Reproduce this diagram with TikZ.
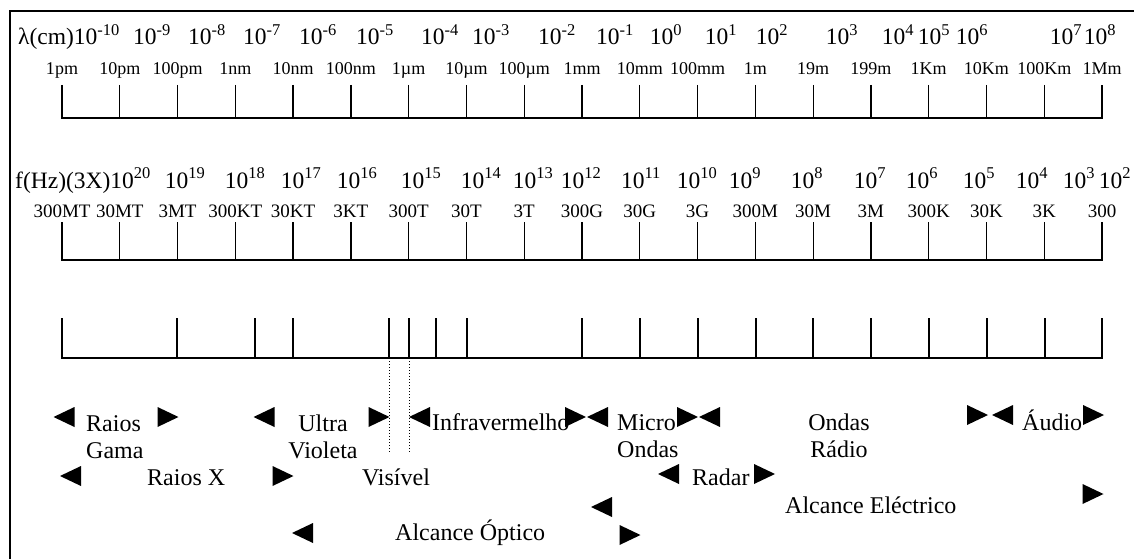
\documentclass[tikz,border=0pt]{standalone}
\usepackage{fontspec}
\setmainfont{Liberation Serif}
\usetikzlibrary{positioning}

\newcommand\pot[1]{10\textsuperscript{#1}}

\tikzset{
  expo/.style={font=\fontsize{23.5}{27}\selectfont, anchor=base, inner sep=0pt},
  unid/.style={font=\fontsize{18}{21}\selectfont, anchor=base, inner sep=0pt},
  freq/.style={font=\fontsize{19}{22}\selectfont, anchor=base, inner sep=0pt},
  faixa/.style={font=\fontsize{24}{27}\selectfont, anchor=base west, inner sep=0pt, align=left},
  regua/.style={line width=1.3pt},
  setad/.pic={\fill (-10,-10) -- (11,0) -- (-10,10) -- cycle;},
  setae/.pic={\fill (10,-10) -- (-11,0) -- (10,10) -- cycle;}
}

\begin{document}
\begin{tikzpicture}[x=1pt, y=-1pt]
		\useasboundingbox (0,0) rectangle (1134,559);
		\draw[line width=1.6pt] (10,559) -- (10,11) -- (1134,11);
		
		% comprimento de onda
		\node[expo, anchor=base west] (lam) at (18,45) {λ(cm)\pot{-10}};
		\foreach \e/\x [count=\i] in {-9/152,-8/207,-7/262,-6/318,-5/375,-4/440,-3/491,-2/557,-1/615,0/666,1/721,2/772,3/842,4/898,5/934,6/972,7/1066,8/1100}
			\node[expo] (lp\i) at (\x,45) {\pot{\e}};
		\foreach \lab [count=\i from 0] in {1pm,10pm,100pm,1nm,10nm,100nm,1µm,10µm,100µm,1mm,10mm,100mm,1m,19m,199m,1Km,10Km,100Km,1Mm}
			\node[unid] (lu\i) at (62+57.78*\i,75) {\lab};
		\draw[regua] (62,85) -- (62,118) -- (1102,118) -- (1102,85);
		\foreach \i in {1,...,17}
			\draw[regua] (62+57.78*\i,85) -- ++(0,33);
		
		% frequencia
		\node[expo, anchor=base west] (hz) at (15,188) {f(Hz)(3X)\pot{20}};
		\foreach \e/\x [count=\i] in {19/185,18/245,17/301,16/357,15/421,14/481,13/533,12/581,11/641,10/697,9/745,8/807,7/870,6/922,5/979,4/1032,3/1079,2/1115}
			\node[expo] (fp\i) at (\x,188) {\pot{\e}};
		\foreach \lab [count=\i from 0] in {300MT,30MT,3MT,300KT,30KT,3KT,300T,30T,3T,300G,30G,3G,300M,30M,3M,300K,30K,3K,300}
			\node[freq] (fu\i) at (62+57.78*\i,217) {\lab};
		\draw[regua] (62,222) -- (62,260) -- (1102,260) -- (1102,222);
		\foreach \i in {1,...,17}
			\draw[regua] (62+57.78*\i,222) -- ++(0,38);
		
		% faixas
		\draw[regua] (62,318) -- (62,358) -- (1102,358) -- (1102,318);
		\foreach \x [count=\i] in {177,255,293,389,409,436,467,582,640,698,756,813,871,929,987,1045}
			\draw[regua] (\x,318) -- (\x,358) coordinate (c\i);
		\coordinate (d4) at (389,452);
		\coordinate (d5) at (409,452);
		\draw[dotted, line width=1pt] (c4) -- (d4);
		\draw[dotted, line width=1pt] (c5) -- (d5);
		
		\node[faixa] (gama) at (86,458) {Raios\\Gama};
		\node[faixa, anchor=base, align=center] (uv) at (323,458) {Ultra\\Violeta};
		\node[faixa] (iv) at (432,430) {Infravermelho};
		\node[faixa] (micro) at (617,457) {Micro\\Ondas};
		\node[faixa, anchor=base, align=center] (radio) at (839,457) {Ondas\\Rádio};
		\node[faixa] (audio) at (1022,430) {Áudio};
		\node[faixa] (raiox) at (147,485) {Raios X};
		\node[faixa, anchor=base] (vis) at (396,485) {Visível};
		\node[faixa] (radar) at (692,485) {Radar};
		\node[faixa] (optico) at (395,540) {Alcance Óptico};
		\node[faixa] (electr) at (785,513) {Alcance Eléctrico};
		
		\pic (s1) at (64.5,417) {setae};
		\pic (s2) at (167.5,417) {setad};
		\pic (s3) at (264.5,417) {setae};
		\pic (s4) at (378.5,417) {setad};
		\pic (s5) at (420,417) {setae};
		\pic (s6) at (575,417) {setad};
		\pic (s7) at (598,417) {setae};
		\pic (s8) at (687,417) {setad};
		\pic (s9) at (710,417) {setae};
		\pic (s10) at (977,415) {setad};
		\pic (s11) at (1003,415) {setae};
		\pic (s12) at (1093,415) {setad};
		\pic (s13) at (71,476) {setae};
		\pic (s14) at (282.5,476) {setad};
		\pic (s15) at (669,474) {setae};
		\pic (s16) at (764,474) {setad};
		\pic (s17) at (303,533) {setae};
		\pic (s18) at (602,507) {setae};
		\pic (s19) at (629.5,535) {setad};
		\pic (s20) at (1092.5,494) {setad};
\end{tikzpicture}
\end{document}
